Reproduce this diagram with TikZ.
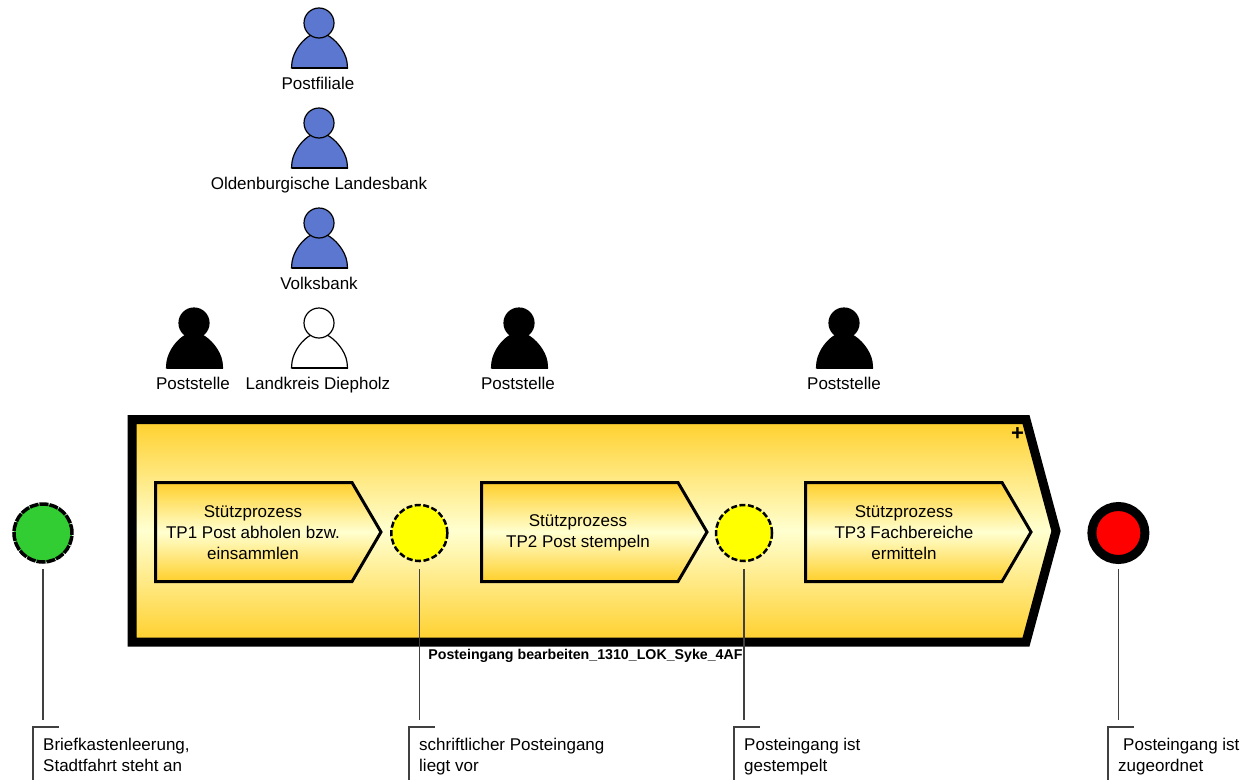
\documentclass[tikz,border=0pt]{standalone}
\usepackage{fontspec}
\setmainfont{Liberation Sans}
\definecolor{pblue}{RGB}{91,119,207}
\definecolor{pgold}{RGB}{255,208,44}
\definecolor{ppale}{RGB}{255,255,208}
\definecolor{pgreen}{RGB}{50,205,50}
\definecolor{pyellow}{RGB}{255,255,0}
\definecolor{pred}{RGB}{255,0,0}
\tikzset{
  person/.pic={
    \draw [line width=1.2pt, pic actions] (-27.5,45) -- (-27,39) .. controls (-25,27) and (-16,16) .. (-8,12) -- (8,12) .. controls (16,16) and (26,27) .. (28,39) -- (28.5,45) -- cycle;
    \draw [line width=2pt] (-27.5,45) -- (28.5,45);
    \draw [line width=1.2pt, pic actions] (0,0) circle (15);
  },
  lbl/.style = {font=\fontsize{17}{21}\selectfont, inner sep=0pt, align=center},
  plabel/.style = {lbl, anchor=base},
  proc/.style = {draw, line width=3pt, miter limit=10, top color=pgold, bottom color=pgold, middle color=ppale},
  event/.style = {circle, draw, inner sep=0pt},
  conn/.style = {draw=black!75, line width=1.2pt},
  note/.style = {lbl, anchor=north west, align=left, inner xsep=10pt, inner ysep=11pt},
  bracket/.style = {draw=black!75, line width=1.2pt}
}
\begin{document}
\begin{tikzpicture}[x=1pt, y=-1pt]
        \useasboundingbox (0,0) rectangle (1246,779);

        %Persons
        \pic [fill=pblue] (p1) at (319,23) {person};
        \node [plabel] (l1) at (318,89) {Postfiliale};
        \pic [fill=pblue] (p2) at (319,123) {person};
        \node [plabel] (l2) at (319,189) {Oldenburgische Landesbank};
        \pic [fill=pblue] (p3) at (319,223) {person};
        \node [plabel] (l3) at (319,289) {Volksbank};
        \pic [fill=black] (p4) at (194,323) {person};
        \node [plabel] (l4) at (193,389) {Poststelle};
        \pic [fill=white] (p5) at (319,323) {person};
        \node [plabel] (l5) at (318,389) {Landkreis Diepholz};
        \pic [fill=black] (p6) at (519,323) {person};
        \node [plabel] (l6) at (518,389) {Poststelle};
        \pic [fill=black] (p7) at (844,323) {person};
        \node [plabel] (l7) at (844,389) {Poststelle};

        %Main process
        \draw [proc, line width=9pt] (132,419.5) -- (1026,419.5) -- (1056,531) -- (1026,642) -- (132,642) -- cycle;
        \node [font=\bfseries\fontsize{22}{22}\selectfont, inner sep=0pt] (plus) at (1017.5,434.5) {+};
        \node [font=\bfseries\fontsize{14.2}{14}\selectfont, inner sep=0pt] (title) at (585.5,656) {Posteingang bearbeiten\_1310\_LOK\_Syke\_4AF};

        %TP1
        \draw [proc] (155.5,482.5) -- (352,482.5) -- (381,532) -- (352,581.5) -- (155.5,581.5) -- cycle;
        \node [lbl] (t1) at (253,532.5) {Stützprozess\\TP1 Post abholen bzw.\\einsammlen};
        %TP2
        \draw [proc] (481.5,482.5) -- (678,482.5) -- (707,532) -- (678,581.5) -- (481.5,581.5) -- cycle;
        \node [lbl] (t2) at (578,532.5) {Stützprozess\\TP2 Post stempeln};
        %TP3
        \draw [proc] (805.5,482.5) -- (1002,482.5) -- (1031,532) -- (1002,581.5) -- (805.5,581.5) -- cycle;
        \node [lbl] (t3) at (904,532.5) {Stützprozess\\TP3 Fachbereiche\\ermitteln};

        %Events
        \node [event, minimum size=58pt, line width=3.5pt, dash pattern=on 9pt off 1pt, fill=pgreen, outer sep=7pt] (ev1) at (43,533) {};
        \node [event, minimum size=56pt, line width=2.5pt, dash pattern=on 6pt off 2.5pt, fill=pyellow, outer sep=8pt] (ev2) at (419.3,533) {};
        \node [event, minimum size=56pt, line width=2.5pt, dash pattern=on 6pt off 2.5pt, fill=pyellow, outer sep=8pt] (ev3) at (744,533) {};
        \node [event, minimum size=53pt, line width=9pt, fill=pred, outer sep=9.5pt] (ev4) at (1118.4,533) {};

        %Notes
        \node [note] (n1) at (33,727) {Briefkastenleerung,\\Stadtfahrt steht an};
        \node [note] (n2) at (409,727) {schriftlicher Posteingang\\liegt vor};
        \node [note] (n3) at (734,727) {Posteingang ist\\gestempelt};
        \node [note] (n4) at (1108,727) {\hspace*{5pt}Posteingang ist\\zugeordnet};

        \coordinate (c1) at (43,719.5);
        \coordinate (c2) at (419.3,719.5);
        \coordinate (c3) at (744,719.5);
        \coordinate (c4) at (1118.4,719.5);
        \draw [conn] (ev1)--(c1);
        \draw [conn] (ev2)--(c2);
        \draw [conn] (ev3)--(c3);
        \draw [conn] (ev4)--(c4);

        \draw [bracket] (n1.north west) ++(26,0) -| (33,780);
        \draw [bracket] (n2.north west) ++(26,0) -| (409,780);
        \draw [bracket] (n3.north west) ++(26,0) -| (734,780);
        \draw [bracket] (n4.north west) ++(26,0) -| (1108,780);
\end{tikzpicture}
\end{document}
